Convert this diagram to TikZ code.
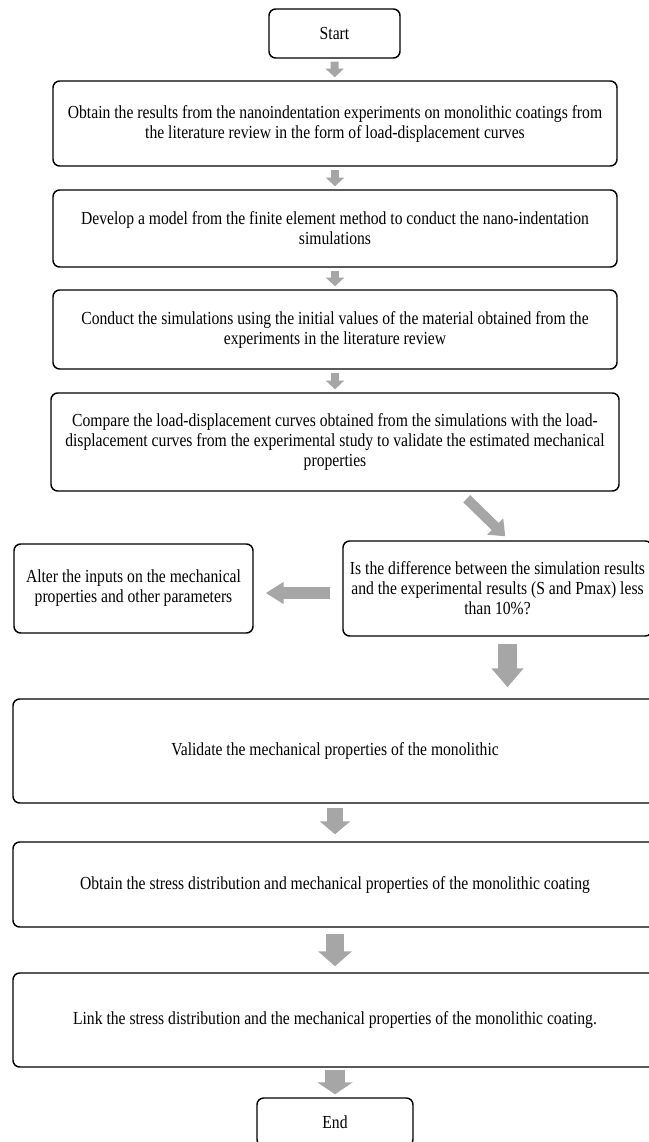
\documentclass[tikz,border=0pt]{standalone}
\usepackage{fontspec}
\setmainfont[FakeStretch=0.85]{Liberation Serif}
\usetikzlibrary{arrows.meta,calc}
\definecolor{arrowgray}{HTML}{A6A6A6}
\begin{document}
\begin{tikzpicture}[x=0.75pt,y=-0.75pt,
  box/.style={draw=black, line width=1.1pt, rounded corners=5pt, fill=white,
    inner sep=0pt, align=center, font=\fontsize{13.8pt}{15pt}\selectfont},
  smallarr/.style={draw=arrowgray, line width=6pt,
    -{Triangle[width=13.5pt,length=6.5pt]}, shorten <=2.25pt, shorten >=2.25pt},
  diagarr/.style={draw=arrowgray, line width=7.5pt,
    -{Triangle[width=16.5pt,length=10.5pt]}},
  leftarr/.style={draw=arrowgray, line width=9pt,
    -{Triangle[width=15.75pt,length=13.5pt]}, shorten <=9pt, shorten >=9pt},
  bigarr/.style={draw=arrowgray, line width=#1pt},
]
\useasboundingbox (0,0) rectangle (649,1142);
\fill[white] (0,0) rectangle (649,1142);

\node[box, minimum width=98.25pt, minimum height=36.75pt] (start) at (334.5,33.5) {Start};
\node[box, minimum width=423pt, minimum height=63.75pt] (b1) at (335,123.5)
  {Obtain the results from the nanoindentation experiments on monolithic coatings from\\the literature review in the form of load-displacement curves};
\node[box, minimum width=423pt, minimum height=57.75pt] (b2) at (335,228.5)
  {Develop a model from the finite element method to conduct the nano-indentation\\simulations};
\node[box, minimum width=423pt, minimum height=59.25pt] (b3) at (335,329.5)
  {Conduct the simulations using the initial values of the material obtained from the\\experiments in the literature review};
\node[box, minimum width=426pt, minimum height=73.5pt] (b4) at (335,442)
  {Compare the load-displacement curves obtained from the simulations with the load-\\displacement curves from the experimental study to validate the estimated mechanical\\properties};
\node[box, minimum width=231.75pt, minimum height=71.25pt] (dec) at (497.5,588.5)
  {Is the difference between the simulation results\\and the experimental results (S and Pmax) less\\than 10\%?};
\node[box, minimum width=179.25pt, minimum height=66.75pt] (alt) at (133.5,588.5)
  {Alter the inputs on the mechanical\\properties and other parameters};
\node[box, minimum width=483pt, minimum height=78pt] (val) at (335,751)
  {Validate the mechanical properties of the monolithic};
\node[box, minimum width=483pt, minimum height=63.75pt] (b6) at (335,884.5)
  {Obtain the stress distribution and mechanical properties of the monolithic coating};
\node[box, minimum width=483pt, minimum height=70.5pt] (b7) at (335,1020)
  {Link the stress distribution and the mechanical properties of the monolithic coating.};
\node[box, minimum width=117pt, minimum height=36pt] (end) at (335,1122) {End};

\draw[smallarr] (start) -- (b1);
\draw[smallarr] (b1) -- (b2);
\draw[smallarr] (b2) -- (b3);
\draw[smallarr] (b3) -- (b4);

\coordinate (g1) at ($(b4.south east)+(-153,7)$);
\coordinate (g2) at ($(dec.north west)+(163,-4)$);
\draw[diagarr] (g1) -- (g2);

\draw[leftarr] ($(dec.west)+(0,4.5)$) -- ($(alt.east)+(0,4.5)$);

\coordinate (dtop) at ($(dec.south)+(10,0)$);
\draw[bigarr=14.25, -{Triangle[width=23.25pt,length=14.25pt]}, shorten <=5.25pt, shorten >=8.25pt]
  (dtop) -- (dtop |- val.north);

\draw[bigarr=12, -{Triangle[width=22.5pt,length=9.75pt]}, shorten <=3pt, shorten >=5.25pt] (val) -- (b6);
\draw[bigarr=13.5, -{Triangle[width=24.75pt,length=11.25pt]}, shorten <=4.5pt, shorten >=4.5pt] (b6) -- (b7);
\draw[bigarr=15, -{Triangle[width=26.25pt,length=9pt]}, shorten <=1.5pt, shorten >=2.25pt] (b7) -- (end);
\end{tikzpicture}
\end{document}
